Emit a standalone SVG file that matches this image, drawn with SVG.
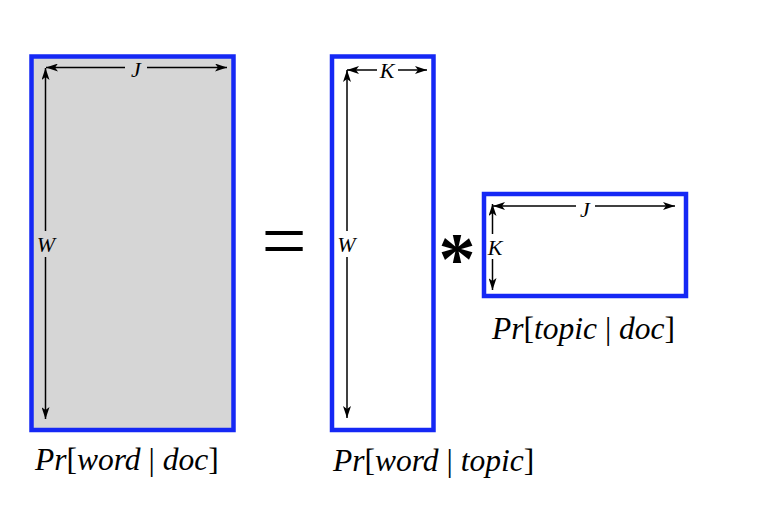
<svg xmlns="http://www.w3.org/2000/svg" width="766" height="508" viewBox="0 0 766 508">
<style>
.box{stroke:#1528f5;stroke-width:4.5}
.ar{stroke:#000;stroke-width:1.5;fill:none}
.lt{font-family:"Liberation Serif","Times New Roman",serif;font-style:italic;font-size:22px;fill:#000}
.lbl{font-family:"Liberation Serif","Times New Roman",serif;font-style:italic;font-size:31.5px;fill:#000}
.up{font-style:normal}
</style>
<defs>
<marker id="ah" viewBox="0 0 12 8" refX="12" refY="4" markerWidth="12" markerHeight="8" orient="auto-start-reverse" markerUnits="userSpaceOnUse">
<path d="M0,0 L12,4 L0,8 L3,4 z" fill="#000"/>
</marker>
</defs>
<rect width="766" height="508" fill="#fff"/>
<g id="m1">
<rect class="box" x="31.5" y="56.5" width="202" height="373.5" fill="#d6d6d6"/>
<text class="lt" x="136" y="77" text-anchor="middle">J</text>
<text class="lt" x="46" y="252" text-anchor="middle">W</text>
<text class="lbl" x="35" y="470">Pr<tspan class="up">[</tspan>word <tspan class="up">|</tspan> doc<tspan class="up">]</tspan></text>
</g>
<g id="m2">
<rect class="box" x="332" y="56.5" width="101.5" height="373.5" fill="#fff"/>
<text class="lt" x="387" y="78" text-anchor="middle">K</text>
<text class="lt" x="346.5" y="252" text-anchor="middle">W</text>
<text class="lbl" x="333" y="471">Pr<tspan class="up">[</tspan>word <tspan class="up">|</tspan> topic<tspan class="up">]</tspan></text>
</g>
<g id="m3">
<rect class="box" x="484" y="194" width="202" height="102" fill="#fff"/>
<text class="lt" x="585" y="217" text-anchor="middle">J</text>
<text class="lt" x="495" y="255" text-anchor="middle">K</text>
<text class="lbl" x="492" y="339">Pr<tspan class="up">[</tspan>topic <tspan class="up">|</tspan> doc<tspan class="up">]</tspan></text>
</g>
<g id="ops">
<text x="284" y="268" text-anchor="middle" font-family="Liberation Serif, serif" font-size="80">=</text>
<text x="457" y="284" text-anchor="middle" font-family="Liberation Serif, serif" font-weight="bold" font-size="74">*</text>
</g>
<g id="connectors">
<line class="ar" x1="125" y1="67.5" x2="46" y2="67.5" marker-end="url(#ah)"/>
<line class="ar" x1="147" y1="67.5" x2="227" y2="67.5" marker-end="url(#ah)"/>
<line class="ar" x1="45.5" y1="231" x2="45.5" y2="68" marker-end="url(#ah)"/>
<line class="ar" x1="45.5" y1="257" x2="45.5" y2="419" marker-end="url(#ah)"/>
<line class="ar" x1="377" y1="70" x2="347" y2="70" marker-end="url(#ah)"/>
<line class="ar" x1="398" y1="70" x2="427" y2="70" marker-end="url(#ah)"/>
<line class="ar" x1="347" y1="231" x2="347" y2="70" marker-end="url(#ah)"/>
<line class="ar" x1="347" y1="257" x2="347" y2="418" marker-end="url(#ah)"/>
<line class="ar" x1="576" y1="206" x2="493" y2="206" marker-end="url(#ah)"/>
<line class="ar" x1="595" y1="206" x2="675" y2="206" marker-end="url(#ah)"/>
<line class="ar" x1="492.5" y1="234" x2="492.5" y2="204" marker-end="url(#ah)"/>
<line class="ar" x1="492.5" y1="259" x2="492.5" y2="290" marker-end="url(#ah)"/>
</g>
</svg>
